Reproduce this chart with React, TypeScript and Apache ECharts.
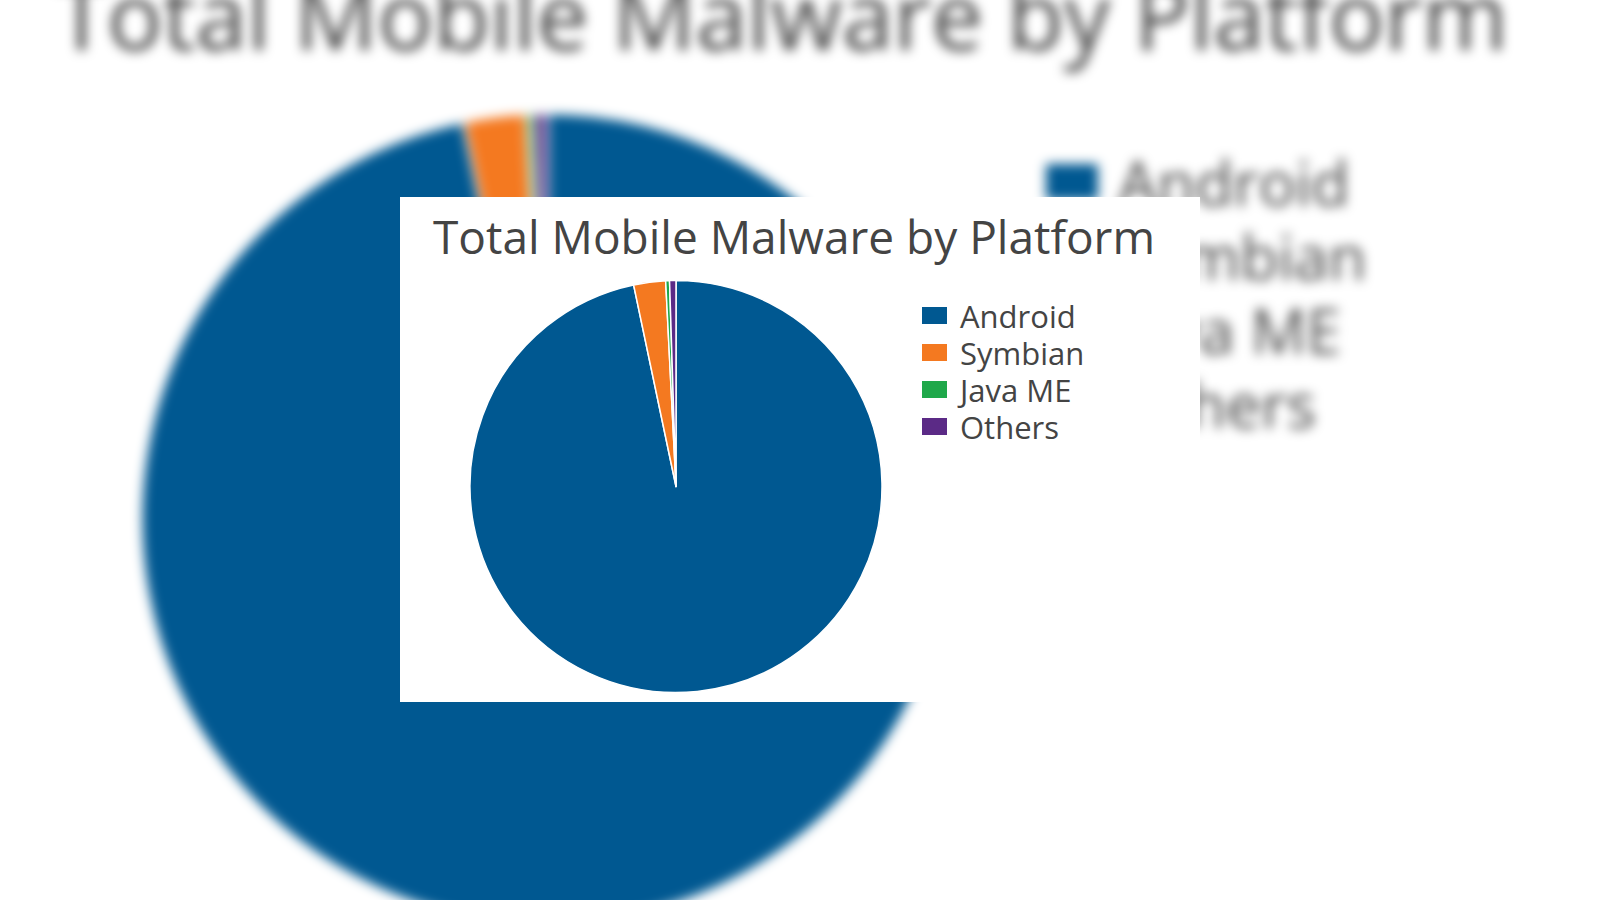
import React, { useEffect, useRef } from "react";
import * as echarts from "echarts";

const TITLE = "Total Mobile Malware by Platform";
const categories = ["Android", "Symbian", "Java ME", "Others"];
const shares = [96.7, 2.5, 0.3, 0.5];
const colors = ["#005891", "#f47920", "#1fa84a", "#5b2a86"];

type Layout = { s: number; legendDx: number; legendDy: number; radius: number; titleSize: number };

function makeOption(L: Layout) {
  const s = L.s;
  return {
    animation: false,
    backgroundColor: "#ffffff",
    color: colors,
    title: {
      text: TITLE,
      left: 28 * s,
      top: 11 * s,
      textStyle: {
        fontFamily: "Open Sans",
        fontWeight: "normal",
        fontSize: L.titleSize,
        color: "#444444",
      },
    },
    legend: {
      orient: "vertical",
      left: 515 * s + L.legendDx,
      top: 98 * s + L.legendDy,
      icon: "rect",
      itemWidth: 27 * s,
      itemHeight: 19 * s,
      itemGap: 6 * s,
      data: categories,
      textStyle: {
        fontFamily: "Open Sans",
        fontSize: 31 * s,
        lineHeight: 30 * s,
        color: "#444444",
        padding: [0, 0, 0, 7 * s],
      },
    },
    series: [
      {
        type: "pie",
        center: [276 * s, 289.5 * s],
        radius: L.radius,
        startAngle: 90,
        clockwise: true,
        label: { show: false },
        labelLine: { show: false },
        emphasis: { disabled: true },
        itemStyle: { borderColor: "#ffffff", borderWidth: 1.5 * s },
        data: categories.map((name, i) => ({ name, value: shares[i] })),
      },
    ],
  };
}

function ChartBox({ L, style }: { L: Layout; style: React.CSSProperties }) {
  const ref = useRef<HTMLDivElement>(null);
  useEffect(() => {
    if (!ref.current) return;
    const chart = echarts.init(ref.current, undefined, { renderer: "svg" });
    chart.setOption(makeOption(L));
    return () => chart.dispose();
  }, [L]);
  return <div ref={ref} style={{ width: 800 * L.s, height: 505 * L.s, position: "absolute", ...style }} />;
}

const BG: Layout = { s: 2, legendDx: 14, legendDy: 10, radius: 406, titleSize: 92.5 };
const FG: Layout = { s: 1, legendDx: 0, legendDy: 0, radius: 206, titleSize: 46 };

export default function App() {
  return (
    <div
      style={{
        position: "fixed",
        left: 0,
        top: 0,
        width: 1600,
        height: 900,
        overflow: "hidden",
        background: "#ffffff",
      }}
    >
      <ChartBox L={BG} style={{ left: -5, top: -60, filter: "blur(6px)" }} />
      <ChartBox L={FG} style={{ left: 400, top: 197 }} />
    </div>
  );
}
